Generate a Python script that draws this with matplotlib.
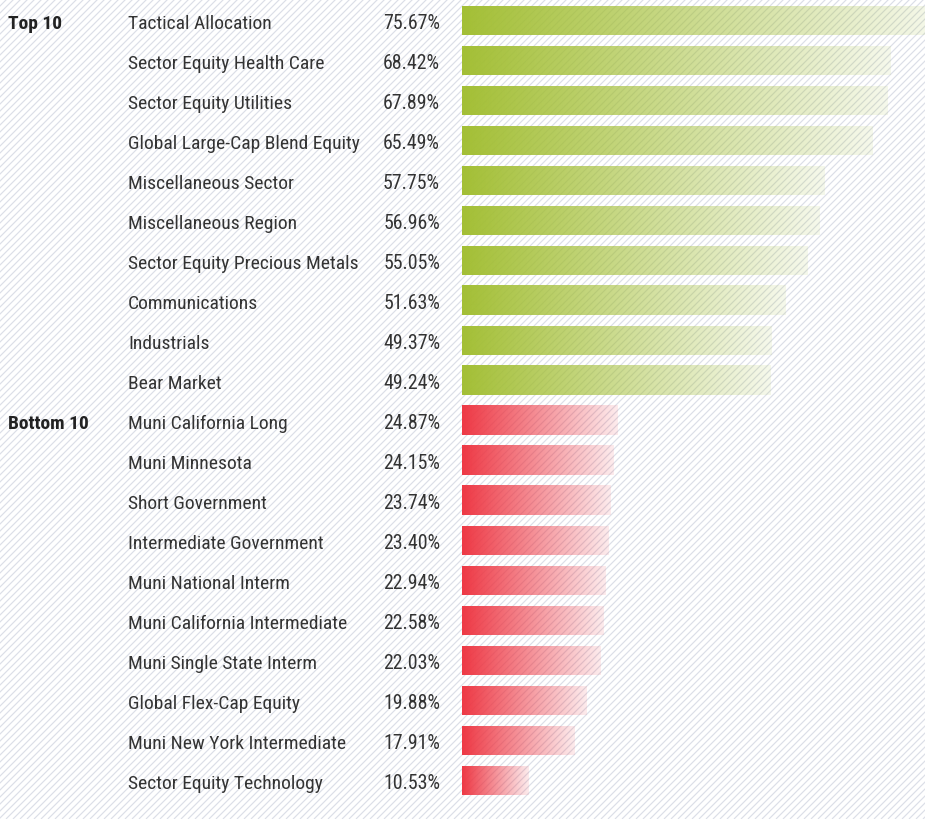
import numpy as np
import matplotlib.pyplot as plt
from matplotlib.collections import LineCollection
from matplotlib.colors import to_rgb
from matplotlib.transforms import blended_transform_factory

top_names = ["Tactical Allocation", "Sector Equity Health Care", "Sector Equity Utilities",
             "Global Large-Cap Blend Equity", "Miscellaneous Sector", "Miscellaneous Region",
             "Sector Equity Precious Metals", "Communications", "Industrials", "Bear Market"]
top_vals = [75.67, 68.42, 67.89, 65.49, 57.75, 56.96, 55.05, 51.63, 49.37, 49.24]

bottom_names = ["Muni California Long", "Muni Minnesota", "Short Government",
                "Intermediate Government", "Muni National Interm", "Muni California Intermediate",
                "Muni Single State Interm", "Global Flex-Cap Equity", "Muni New York Intermediate",
                "Sector Equity Technology"]
bottom_vals = [24.87, 24.15, 23.74, 23.40, 22.94, 22.58, 22.03, 19.88, 17.91, 10.53]

group_labels = ["Top 10", "Bottom 10"]
green = "#a3bf35"
red = "#ee3844"

plt.rcParams["font.family"] = ["Roboto Condensed", "Archivo Narrow", "DejaVu Sans"]

W, H = 925, 820
fig = plt.figure(figsize=(W / 100, H / 100), dpi=100)
fig.patch.set_facecolor("white")

# diagonal stripe texture behind everything
bg = fig.add_axes([0, 0, 1, 1], zorder=0)
bg.set_xlim(0, W)
bg.set_ylim(H, 0)
bg.axis("off")
step = 7
segs = [[(c, 0), (c - H, H)] for c in np.arange(0, W + H + step, step)]
bg.add_collection(LineCollection(segs, colors="#dcdfe8", linewidths=0.85))

ax = fig.add_axes([0, 0, 1, 1], zorder=1)
ax.patch.set_alpha(0)
ax.axis("off")
px = 6.27  # pixels per percent
x0 = 462

names = top_names + bottom_names
vals = top_vals + bottom_vals
colors = [green] * len(top_vals) + [red] * len(bottom_vals)

grad = np.linspace(1.0, 0.1, 256)
for i, (v, c) in enumerate(zip(vals, colors)):
    rgba = np.zeros((1, 256, 4))
    rgba[..., :3] = to_rgb(c)
    rgba[..., 3] = grad
    ax.imshow(rgba, extent=(0, v, i + 0.3625, i - 0.3625), aspect="auto",
              interpolation="bilinear", zorder=2)

ax.set_xlim(-x0 / px, (W - x0) / px)
ax.set_ylim((H - 21.5) / 40, -21.5 / 40)

tr = blended_transform_factory(fig.transFigure, ax.transData)
dy = 0.06  # nudge text onto the bar centre line
for i, (n, v) in enumerate(zip(names, vals)):
    ax.text(128 / W, i + dy, n, transform=tr, ha="left", va="center",
            fontsize=14, color="#333333")
    ax.text(440 / W, i + dy, f"{v:.2f}%", transform=tr, ha="right", va="center",
            fontsize=14.3, color="#333333")
ax.text(8 / W, 0 + dy, group_labels[0], transform=tr, ha="left", va="center",
        fontsize=14, weight="bold", color="#222222")
ax.text(8 / W, len(top_vals) + dy, group_labels[1], transform=tr, ha="left", va="center",
        fontsize=14, weight="bold", color="#222222")

fig.savefig("out.png", dpi=100)
